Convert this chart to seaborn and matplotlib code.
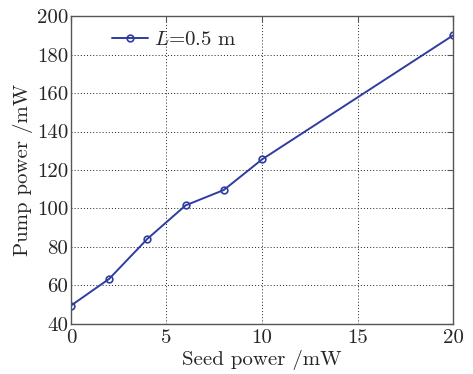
import matplotlib
matplotlib.use("Agg")
import matplotlib.pyplot as plt
import seaborn as sns
import pandas as pd

seed_power = [0, 2, 4, 6, 8, 10, 20]
pump_power = [49.5, 63.4, 84.2, 101.6, 109.6, 125.5, 190]
x_ticks = [0, 5, 10, 15, 20]
y_ticks = [40, 60, 80, 100, 120, 140, 160, 180, 200]

sns.set_style("white")
plt.rcParams['font.family'] = ['serif']
plt.rcParams['font.serif'] = ['cmr10', 'DejaVu Serif']
plt.rcParams['mathtext.fontset'] = 'cm'
plt.rcParams['axes.unicode_minus'] = False

df = pd.DataFrame({"x": seed_power, "y": pump_power})

fig = plt.figure(figsize=(4.73, 3.74), dpi=100)
ax = fig.add_axes([0.150, 0.134, 0.808, 0.823])
color = "#2e3da0"
sns.lineplot(data=df, x="x", y="y", ax=ax, color=color, lw=1.4,
             marker="o", markersize=4.8, markerfacecolor="none",
             markeredgecolor=color, markeredgewidth=1.2,
             label=r"$L$=0.5 m")

ax.set_xlim(0, 20)
ax.set_ylim(40, 200)
ax.set_xticks(x_ticks)
ax.set_yticks(y_ticks)
ax.grid(True, linestyle=(0, (1, 2.2)), color="#222222", lw=0.7)
for s in ax.spines.values():
    s.set_color("#555555")
    s.set_linewidth(1.0)
ax.tick_params(direction="in", top=True, right=True, length=4, labelsize=15,
               color="#555555")
ax.tick_params(axis="x", pad=4)
ax.tick_params(axis="y", pad=2)
ax.set_xlabel("Seed power /mW", fontsize=15, labelpad=2)
ax.set_ylabel("Pump power /mW", fontsize=15, labelpad=3)
leg = ax.legend(loc="upper left", frameon=False, fontsize=15,
                handlelength=1.7, handletextpad=0.3,
                bbox_to_anchor=(0.07, 1.0), borderaxespad=0.3)
fig.savefig("out.png", dpi=100)
